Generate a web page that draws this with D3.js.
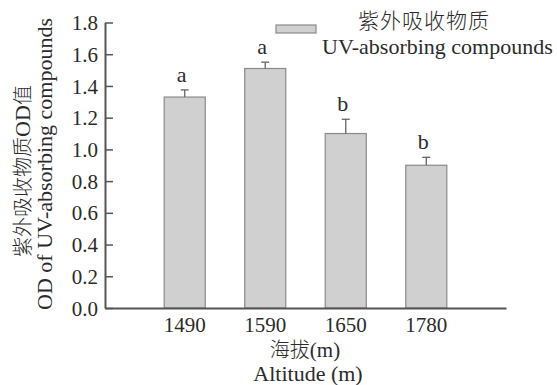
<!DOCTYPE html>
<html>
<head>
<meta charset="utf-8">
<script src="https://cdn.jsdelivr.net/npm/d3@7"></script>
<style>
  html, body { margin: 0; padding: 0; background: #fff; }
  svg text { fill: #2b2b2b; }
</style>
</head>
<body>
<svg id="chart" width="557" height="385"></svg>
<script>
// Altitude groups and mean OD of UV-absorbing compounds
const categories = ["1490", "1590", "1650", "1780"];
const values = [1.33, 1.51, 1.10, 0.90];
const errors = [0.045, 0.04, 0.09, 0.05];
const letters = ["a", "a", "b", "b"];
const yTicks = [0.0, 0.2, 0.4, 0.6, 0.8, 1.0, 1.2, 1.4, 1.6, 1.8];

const serif = "'Liberation Serif', 'Times New Roman', serif";
const cjk = "'Noto Sans CJK SC', sans-serif";

const svg = d3.select("#chart");
const axisColor = "#555";
const barFill = "#d0d0d0";
const barStroke = "#8a8a8a";

const x = d3.scaleBand()
  .domain(categories)
  .range([105, 506])
  .paddingInner(0.49)
  .paddingOuter(0.735);

const y = d3.scaleLinear()
  .domain([0, 1.8])
  .range([308, 22.5]);

// Bars
svg.append("g").selectAll("rect")
  .data(categories)
  .join("rect")
  .attr("x", d => x(d))
  .attr("y", (d, i) => y(values[i]))
  .attr("width", x.bandwidth())
  .attr("height", (d, i) => y(0) - y(values[i]))
  .attr("fill", barFill)
  .attr("stroke", barStroke)
  .attr("stroke-width", 1.2);

// Upper error bars
const eg = svg.append("g").attr("stroke", "#666").attr("stroke-width", 1.3);
categories.forEach((c, i) => {
  const cx = x(c) + x.bandwidth() / 2;
  eg.append("line")
    .attr("x1", cx).attr("x2", cx)
    .attr("y1", y(values[i])).attr("y2", y(values[i] + errors[i]));
  eg.append("line")
    .attr("x1", cx - 4).attr("x2", cx + 4)
    .attr("y1", y(values[i] + errors[i])).attr("y2", y(values[i] + errors[i]));
});

// Significance letters
svg.append("g").selectAll("text")
  .data(categories)
  .join("text")
  .attr("x", d => x(d) + x.bandwidth() / 2 - 3)
  .attr("y", (d, i) => y(values[i] + errors[i]) - 8)
  .attr("text-anchor", "middle")
  .attr("font-family", serif)
  .attr("font-size", 22)
  .text((d, i) => letters[i]);

// Y axis (ticks pointing inward)
const yAxis = svg.append("g")
  .attr("transform", "translate(105,0)")
  .call(d3.axisRight(y).tickValues(yTicks).tickFormat(d3.format(".1f")).tickSize(8).tickSizeOuter(0));
yAxis.attr("font-family", null).attr("font-size", null);
yAxis.select(".domain").attr("stroke", axisColor).attr("stroke-width", 2);
yAxis.selectAll(".tick line").attr("stroke", axisColor).attr("stroke-width", 1.5);
yAxis.selectAll(".tick text")
  .attr("x", -7)
  .attr("text-anchor", "end")
  .attr("dy", "0.34em")
  .style("font-family", serif)
  .style("font-size", "21px");

// X axis
const xAxis = svg.append("g")
  .attr("transform", "translate(0,308)")
  .call(d3.axisBottom(x).tickSize(0).tickSizeOuter(0));
xAxis.attr("font-family", null).attr("font-size", null);
xAxis.select(".domain").attr("stroke", axisColor).attr("stroke-width", 2);
xAxis.selectAll(".tick text")
  .attr("y", 24)
  .attr("dy", 0)
  .style("font-family", serif)
  .style("font-size", "21px");
svg.selectAll(".tick text").attr("fill", "#2b2b2b");

// Axis titles
const xt = svg.append("text")
  .attr("x", 305).attr("y", 357)
  .attr("text-anchor", "middle")
  .attr("font-size", 20);
xt.append("tspan").attr("font-family", cjk).attr("font-weight", 300).text("海拔");
xt.append("tspan").attr("font-family", serif).attr("font-size", 21).text("(m)");

svg.append("text")
  .attr("x", 308).attr("y", 381)
  .attr("text-anchor", "middle")
  .attr("font-family", serif)
  .attr("font-size", 22)
  .text("Altitude (m)");

const yt = svg.append("text")
  .attr("transform", "translate(30,171) rotate(-90)")
  .attr("text-anchor", "middle")
  .attr("font-size", 20);
yt.append("tspan").attr("font-family", cjk).attr("font-weight", 300).text("紫外吸收物质");
yt.append("tspan").attr("font-family", serif).attr("font-size", 22).text("OD");
yt.append("tspan").attr("font-family", cjk).attr("font-weight", 300).text("值");

svg.append("text")
  .attr("transform", "translate(52,164) rotate(-90)")
  .attr("text-anchor", "middle")
  .attr("font-family", serif)
  .attr("font-size", 22)
  .text("OD of UV-absorbing compounds");

// Legend
svg.append("rect")
  .attr("x", 276).attr("y", 25)
  .attr("width", 40).attr("height", 8)
  .attr("fill", barFill)
  .attr("stroke", barStroke)
  .attr("stroke-width", 1.2);
svg.append("text")
  .attr("x", 358).attr("y", 28)
  .attr("font-family", cjk)
  .attr("font-weight", 300)
  .attr("font-size", 21)
  .attr("letter-spacing", 1)
  .text("紫外吸收物质");
svg.append("text")
  .attr("x", 322).attr("y", 54)
  .attr("font-family", serif)
  .attr("font-size", 22)
  .text("UV-absorbing compounds");
</script>
</body>
</html>
